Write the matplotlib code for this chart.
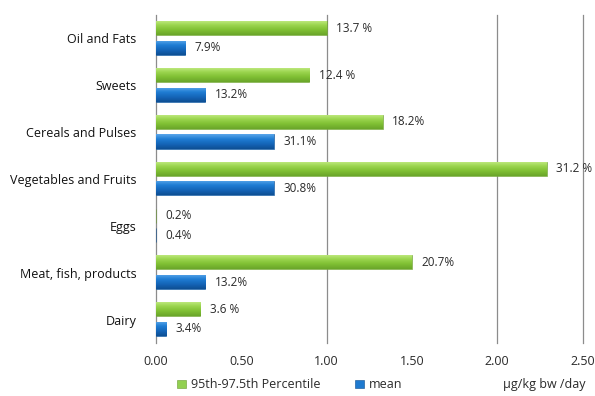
import matplotlib
matplotlib.use("Agg")
import matplotlib.pyplot as plt
import numpy as np
from matplotlib.colors import LinearSegmentedColormap
from matplotlib.patches import Patch

plt.rcParams['font.family'] = ['Open Sans', 'DejaVu Sans']

categories = ["Oil and Fats", "Sweets", "Cereals and Pulses", "Vegetables and Fruits",
              "Eggs", "Meat, fish, products", "Dairy"]
p95_values = [1.00, 0.90, 1.33, 2.29, 0.002, 1.50, 0.26]
mean_values = [0.17, 0.29, 0.69, 0.69, 0.001, 0.29, 0.06]
p95_labels = ["13.7 %", "12.4 %", "18.2%", "31.2 %", "0.2%", "20.7%", "3.6 %"]
mean_labels = ["7.9%", "13.2%", "31.1%", "30.8%", "0.4%", "13.2%", "3.4%"]
x_ticks = [0.0, 0.5, 1.0, 1.5, 2.0, 2.5]
grid_at = [1.0, 2.0, 2.5]

fig = plt.figure(figsize=(5.95, 3.96), dpi=100)
ax = fig.add_axes([0.262, 0.134, 0.717, 0.828])

y = np.arange(len(categories))
h = 0.30
green_cmap = LinearSegmentedColormap.from_list("g", ["#c4ec86", "#9bd54e", "#7fbf33", "#6aa52a"])
blue_cmap = LinearSegmentedColormap.from_list("b", ["#5aa6ea", "#1f7dd3", "#1565b8", "#0e4f94"])

def shade(bars, cmap):
    grad = np.linspace(0, 1, 64).reshape(-1, 1)
    for b in bars:
        x0, y0 = b.get_x(), b.get_y()
        w, hh = b.get_width(), b.get_height()
        if w <= 0.01:
            continue
        im = ax.imshow(grad, aspect="auto", cmap=cmap, origin="upper",
                       extent=[x0, x0 + w, y0 + hh, y0], zorder=3)
        im.set_clip_path(b)

gb = ax.barh(y - 0.22, p95_values, height=h, color="#92d050", zorder=3,
             edgecolor="#6a9a30", linewidth=0.4)
bb = ax.barh(y + 0.20, mean_values, height=h, color="#1f7ad0", zorder=3,
             edgecolor="#0d4d8f", linewidth=0.4)
shade(gb, green_cmap)
shade(bb, blue_cmap)

fs = 8.5
for yi, v, lab in zip(y, p95_values, p95_labels):
    ax.text(v + 0.055, yi - 0.22, lab, va="center", ha="left", fontsize=fs, color="#2a2a2a")
for yi, v, lab in zip(y, mean_values, mean_labels):
    ax.text(v + 0.055, yi + 0.20, lab, va="center", ha="left", fontsize=fs, color="#2a2a2a")

ax.set_xlim(0, 2.5)
ax.set_ylim(6.5, -0.5)
ax.set_yticks(y)
ax.set_yticklabels(categories, fontsize=9, color="#111111")
ax.set_xticks(x_ticks)
ax.set_xticklabels([f"{t:.2f}" for t in x_ticks], fontsize=9, color="#2a2a2a")
ax.tick_params(axis="both", length=0, pad=9)
ax.tick_params(axis="y", pad=14)
for g in grid_at:
    ax.axvline(g, color="#8c8c8c", linewidth=0.9, zorder=1, clip_on=False)
for s in ["top", "right", "bottom"]:
    ax.spines[s].set_visible(False)
ax.spines["left"].set_color("#8c8c8c")
ax.spines["left"].set_linewidth(0.9)

# legend row and unit label
handles = [Patch(facecolor="#92d050", edgecolor="#6a9a30", linewidth=0.4),
           Patch(facecolor="#1f7ad0", edgecolor="#0d4d8f", linewidth=0.4)]
fig.legend(handles, ["95th-97.5th Percentile", "mean"], loc="center",
           bbox_to_anchor=(0.487, 0.028), ncol=2, frameon=False, fontsize=9,
           handlelength=0.7, handleheight=0.7, handletextpad=0.4, columnspacing=2.8,
           labelcolor="#2a2a2a")
fig.text(0.915, 0.03, "µg/kg bw /day", ha="center", va="center", fontsize=9, color="#2a2a2a")

fig.savefig("out.png", dpi=100, facecolor="white")
